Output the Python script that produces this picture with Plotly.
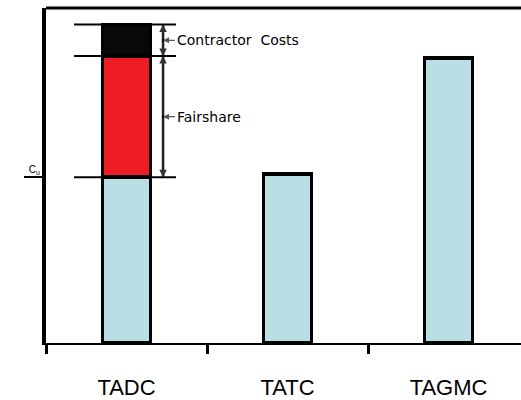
import plotly.graph_objects as go

categories = ["TADC", "TATC", "TAGMC"]
base_cost = [1.0, 1.02, 1.72]
fairshare = [0.73, None, None]
contractor_costs = [0.19, None, None]
y_tick_vals = [1.0]
y_tick_text = ["C<sub>u</sub>"]
seg_labels = ["Fairshare", "Contractor  Costs"]

fig = go.Figure()
line = dict(color="black", width=3.5)
fig.add_trace(go.Bar(x=categories, y=base_cost, marker=dict(color="#b9dfe4", line=line), width=0.3))
fig.add_trace(go.Bar(x=categories, y=fairshare, marker=dict(color="#ee1c25", line=line), width=0.3))
fig.add_trace(go.Bar(x=categories, y=contractor_costs, marker=dict(color="#080808", line=line), width=0.3))

# dimension levels for first category
lv0 = base_cost[0]
lv1 = lv0 + fairshare[0]
lv2 = lv1 + contractor_costs[0]
levels = [lv0, lv1, lv2]
vx = 0.227
for lv in levels:
    fig.add_shape(type="line", xref="x", yref="y", x0=-0.326, x1=0.307, y0=lv, y1=lv,
                  line=dict(color="black", width=2))
fig.add_shape(type="line", xref="x", yref="y", x0=vx, x1=vx, y0=lv0, y1=lv2,
              line=dict(color="black", width=2.5))
# arrowheads at segment ends
for a, b in [(lv0, lv1), (lv1, lv2)]:
    m = (a + b) / 2
    for end in (a, b):
        fig.add_annotation(x=vx, y=end, ax=vx, ay=m, xref="x", yref="y", axref="x", ayref="y",
                           text="", showarrow=True, arrowhead=2, arrowsize=1, arrowwidth=1.5,
                           arrowcolor="#333")
# labels
for (a, b), t in zip([(lv0, lv1), (lv1, lv2)], seg_labels):
    m = (a + b) / 2
    fig.add_annotation(x=vx, y=m, ax=0.30, ay=m, xref="x", yref="y", axref="x", ayref="y",
                       text=t, xanchor="left", showarrow=True, arrowhead=2, arrowsize=1,
                       arrowwidth=1.2, arrowcolor="#555", standoff=0,
                       font=dict(family="DejaVu Sans", size=14, color="black"))

# top border of frame
fig.add_shape(type="line", xref="paper", yref="paper", x0=0, x1=1, y0=1, y1=1,
              line=dict(color="black", width=3))

fig.update_layout(
    barmode="stack",
    width=521, height=400,
    margin=dict(l=46, r=0, t=8, b=57),
    paper_bgcolor="white", plot_bgcolor="white",
    showlegend=False,
    font=dict(family="Liberation Sans", color="black"),
)
fig.update_xaxes(
    type="category", range=[-0.5, 2.45], tickson="boundaries",
    showline=True, linecolor="black", linewidth=2,
    ticks="outside", ticklen=9, tickwidth=3, tickcolor="black",
    tickfont=dict(size=22, family="Liberation Sans"), ticklabelstandoff=24,
    showgrid=False, zeroline=False,
)
fig.update_yaxes(
    range=[0, 2.02], tickvals=y_tick_vals, ticktext=y_tick_text,
    ticks="outside", ticklen=18, tickwidth=2, tickcolor="black",
    ticklabelposition="outside top", tickfont=dict(size=10),
    showline=True, linecolor="black", linewidth=4,
    showgrid=False, zeroline=False,
)

fig.write_html("out.html")
